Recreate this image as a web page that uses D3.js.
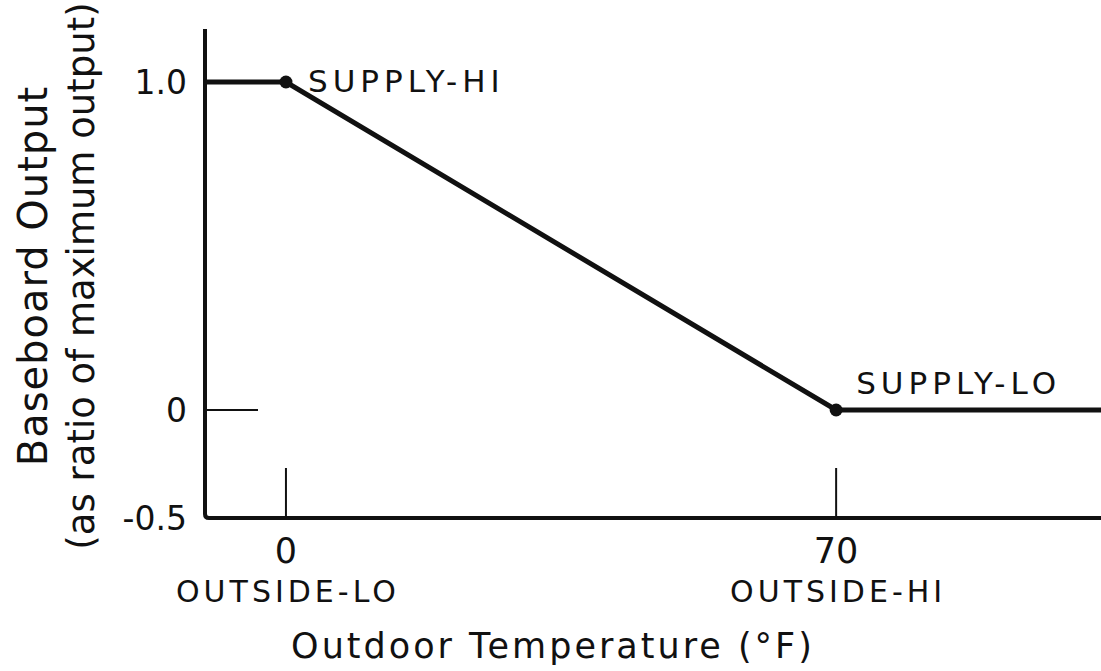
<!DOCTYPE html>
<html>
<head>
<meta charset="utf-8">
<script src="https://cdn.jsdelivr.net/npm/d3@7"></script>
<style>
  body { margin: 0; background: #fff; }
  text { font-family: "DejaVu Sans", sans-serif; fill: #111; }
</style>
</head>
<body>
<div id="chart"></div>
<script>
// data
const curveTemps = [-10.3, 0, 70, 103.7];
const curveOutput = [1.0, 1.0, 0, 0];
const knotTemps = [0, 70];
const knotOutput = [1.0, 0];
const knotNames = ['SUPPLY-HI', 'SUPPLY-LO'];
const xTicks = [0, 70];
const xTickLabels = ['0', '70'];
const xTickNames = ['OUTSIDE-LO', 'OUTSIDE-HI'];
const yTicks = [1.0, 0, -0.5];
const yTickLabels = ['1.0', '0', '-0.5'];

const width = 1101, height = 671;
const left = 205, right = 1101;
const svg = d3.select('#chart').append('svg')
  .attr('width', width)
  .attr('height', height);

const x = d3.scaleLinear().domain([-10.3, 103.7]).range([left, right]);
// axis is broken below zero in the original, so piecewise scale
const y = d3.scaleLinear().domain([-0.5, 0, 1.0]).range([518, 410, 82]);

// axes (frame)
svg.append('path')
  .attr('d', `M${left},29 L${left},${y(-0.5) - 4} Q${left},${y(-0.5)} ${left + 4},${y(-0.5)} L${right},${y(-0.5)}`)
  .attr('fill', 'none')
  .attr('stroke', '#111')
  .attr('stroke-width', 4);

// x tick marks (drawn upward from axis)
svg.selectAll('.xtick')
  .data(xTicks)
  .enter().append('line')
    .attr('x1', d => x(d)).attr('x2', d => x(d))
    .attr('y1', y(-0.5)).attr('y2', y(-0.5) - 50)
    .attr('stroke', '#111').attr('stroke-width', 2);

svg.selectAll('.xlab')
  .data(xTicks)
  .enter().append('text')
    .attr('x', d => x(d))
    .attr('y', 563)
    .attr('text-anchor', 'middle')
    .attr('font-size', 35)
    .text((d, i) => xTickLabels[i]);

svg.selectAll('.xname')
  .data(xTicks)
  .enter().append('text')
    .attr('x', d => x(d) + 2)
    .attr('y', 602)
    .attr('text-anchor', 'middle')
    .attr('font-size', 30)
    .attr('letter-spacing', 4)
    .text((d, i) => xTickNames[i]);

// y tick at zero
svg.append('line')
  .attr('x1', left).attr('x2', left + 53)
  .attr('y1', y(0)).attr('y2', y(0))
  .attr('stroke', '#111').attr('stroke-width', 2);

svg.selectAll('.ylab')
  .data(yTicks)
  .enter().append('text')
    .attr('x', 187)
    .attr('y', d => y(d))
    .attr('dy', '0.36em')
    .attr('text-anchor', 'end')
    .attr('font-size', 33)
    .text((d, i) => yTickLabels[i]);

// the reset curve
const line = d3.line()
  .x(d => x(d[0]))
  .y(d => y(d[1]));

svg.append('path')
  .datum(curveTemps.map((t, i) => [t, curveOutput[i]]))
  .attr('d', line)
  .attr('fill', 'none')
  .attr('stroke', '#111')
  .attr('stroke-width', 5);

svg.selectAll('.knot')
  .data(knotTemps)
  .enter().append('circle')
    .attr('cx', d => x(d))
    .attr('cy', (d, i) => y(knotOutput[i]))
    .attr('r', 6.5)
    .attr('fill', '#111');

svg.selectAll('.kname')
  .data(knotTemps)
  .enter().append('text')
    .attr('x', (d, i) => x(d) + (i === 0 ? 22 : 20))
    .attr('y', (d, i) => y(knotOutput[i]) + (i === 0 ? 10 : -16))
    .attr('font-size', 31)
    .attr('letter-spacing', 5)
    .text((d, i) => knotNames[i]);

// axis titles
svg.append('text')
  .attr('x', 553)
  .attr('y', 658)
  .attr('text-anchor', 'middle')
  .attr('font-size', 35)
  .attr('letter-spacing', 3)
  .text('Outdoor Temperature (°F)');

{
  let ty = 276;
  svg.append('text')
    .attr('transform', `translate(47,${ty}) rotate(-90)`)
    .attr('text-anchor', 'middle')
    .attr('font-size', 40)
    .attr('letter-spacing', 1)
    .text('Baseboard Output');
  svg.append('text')
    .attr('transform', `translate(94,${ty}) rotate(-90)`)
    .attr('text-anchor', 'middle')
    .attr('font-size', 37)
    .text('(as ratio of maximum output)');
}
</script>
</body>
</html>
